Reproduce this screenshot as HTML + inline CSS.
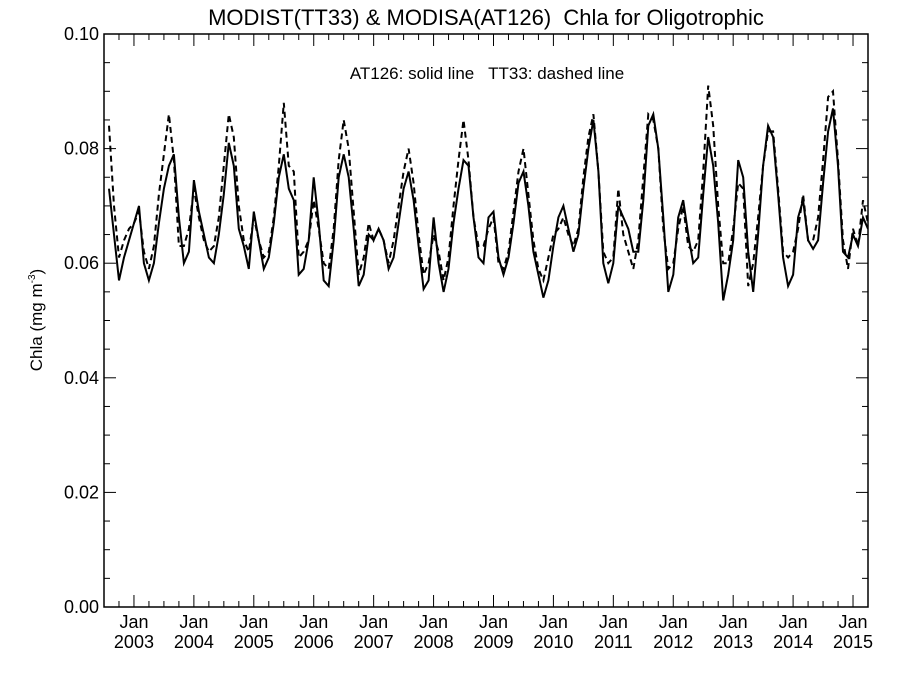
<!DOCTYPE html>
<html><head><meta charset="utf-8">
<style>
body{margin:0;background:#fff;}
svg text{font-family:"Liberation Sans",sans-serif;fill:#000;white-space:pre;}
</style></head>
<body>
<svg id="chart" width="900" height="675" xmlns="http://www.w3.org/2000/svg">
<rect width="900" height="675" fill="#fff"/>
<text x="486" y="25" font-size="22" text-anchor="middle" xml:space="preserve">MODIST(TT33) &amp; MODISA(AT126)  Chla for Oligotrophic</text>
<text x="487" y="79" font-size="17" text-anchor="middle" xml:space="preserve">AT126: solid line   TT33: dashed line</text>
<text transform="translate(42,320) rotate(-90)" font-size="17" text-anchor="middle">Chla (mg m<tspan font-size="10" dy="-7">-3</tspan><tspan dy="7">)</tspan></text>
<g id="axes"></g>
<g id="series"></g>
<rect x="104" y="34" width="764" height="573" fill="none" stroke="#000" stroke-width="1.5"/>
</svg>
<script>
const startYear = 2002, startMonth = 8; // first sample: Aug 2002
const solid = [
0.073,0.065,0.057,0.061,0.064,0.067,
0.070,0.060,0.057,0.060,0.067,0.073,0.077,0.079,0.068,0.060,0.062,0.0745,
0.069,0.065,0.061,0.060,0.065,0.072,0.081,0.077,0.066,0.063,0.059,0.069,
0.064,0.059,0.061,0.067,0.075,0.079,0.073,0.071,0.058,0.059,0.064,0.075,
0.067,0.057,0.056,0.064,0.075,0.079,0.075,0.066,0.056,0.058,0.065,0.064,
0.066,0.064,0.059,0.061,0.067,0.073,0.076,0.071,0.063,0.0555,0.057,0.068,
0.060,0.055,0.059,0.067,0.073,0.078,0.077,0.068,0.061,0.060,0.068,0.069,
0.061,0.058,0.061,0.067,0.074,0.076,0.070,0.062,0.058,0.054,0.057,0.063,
0.068,0.070,0.066,0.062,0.065,0.073,0.080,0.085,0.076,0.060,0.0565,0.060,
0.070,0.068,0.066,0.062,0.062,0.071,0.084,0.086,0.080,0.068,0.055,0.058,
0.068,0.071,0.065,0.060,0.061,0.072,0.082,0.077,0.067,0.0535,0.058,0.064,
0.078,0.075,0.062,0.055,0.065,0.077,0.084,0.082,0.072,0.061,0.056,0.058,
0.068,0.071,0.064,0.0625,0.064,0.074,0.083,0.087,0.077,0.062,0.061,0.065,
0.063,0.068,0.066,0.066];
const dashed = [
0.084,0.070,0.061,0.064,0.066,0.067,
0.069,0.062,0.059,0.063,0.072,0.079,0.086,0.078,0.063,0.063,0.066,0.073,
0.068,0.064,0.062,0.063,0.068,0.077,0.086,0.082,0.070,0.064,0.062,0.068,
0.064,0.061,0.062,0.068,0.077,0.088,0.077,0.076,0.061,0.062,0.064,0.071,
0.066,0.060,0.059,0.066,0.078,0.085,0.080,0.069,0.058,0.061,0.067,0.064,
0.066,0.064,0.060,0.064,0.070,0.076,0.080,0.074,0.065,0.058,0.060,0.065,
0.062,0.057,0.061,0.070,0.078,0.085,0.078,0.068,0.063,0.063,0.066,0.068,
0.060,0.059,0.062,0.069,0.076,0.080,0.072,0.064,0.059,0.057,0.061,0.065,
0.066,0.068,0.065,0.063,0.066,0.075,0.082,0.086,0.076,0.062,0.060,0.061,
0.073,0.065,0.062,0.059,0.064,0.075,0.086,0.085,0.080,0.066,0.059,0.060,
0.066,0.070,0.063,0.062,0.064,0.076,0.091,0.084,0.070,0.060,0.060,0.066,
0.074,0.073,0.056,0.060,0.068,0.077,0.083,0.083,0.073,0.062,0.061,0.062,
0.066,0.072,0.064,0.064,0.068,0.078,0.089,0.090,0.078,0.064,0.059,0.066,
0.063,0.071,0.067,0.069];
const yTicks = [0.00,0.02,0.04,0.06,0.08,0.10];
const yTickLabels = ["0.00","0.02","0.04","0.06","0.08","0.10"];
const xYears = [2003,2004,2005,2006,2007,2008,2009,2010,2011,2012,2013,2014,2015];

const L=104,R=868,T=34,B=607;
const tMin=2002.5, tMax=2015.25, yMin=0, yMax=0.1;
const X=t=>L+(t-tMin)/(tMax-tMin)*(R-L);
const Y=v=>B-(v-yMin)/(yMax-yMin)*(B-T);
const NS="http://www.w3.org/2000/svg";
const axes=document.getElementById('axes'), series=document.getElementById('series');
function mk(tag,attrs,parent){const e=document.createElementNS(NS,tag);for(const k in attrs)e.setAttribute(k,attrs[k]);parent.appendChild(e);return e;}

for(let v=0;v<=0.1001;v+=0.005){
  const major=Math.abs(v/0.02-Math.round(v/0.02))<1e-6;
  const len=major?12:6, y=Y(v);
  const t1=mk('line',{x1:L,x2:L+len,y1:y,y2:y,stroke:'#000','stroke-width':1},axes);
  
  
  const t2=mk('line',{x1:R,x2:R-len,y1:y,y2:y,stroke:'#000','stroke-width':1},axes);
  
  
}
yTicks.forEach((v,i)=>{
  const tx=mk('text',{x:L-5,y:Y(v)+6,'font-size':18,'text-anchor':'end'},axes);
  tx.textContent=yTickLabels[i];
  
  
});
for(let t=2002.75;t<tMax;t+=0.25){
  const major=Math.abs(t-Math.round(t))<1e-6;
  const len=major?12:6, x=X(t);
  const a=mk('line',{x1:x,x2:x,y1:B,y2:B-len,stroke:'#000','stroke-width':1},axes);
  
  
  const b=mk('line',{x1:x,x2:x,y1:T,y2:T+len,stroke:'#000','stroke-width':1},axes);
  
  
}
xYears.forEach(yr=>{
  const x=X(yr);
  const a=mk('text',{x:x,y:628,'font-size':18,'text-anchor':'middle'},axes);
  a.textContent='Jan';
  
  
  const b=mk('text',{x:x,y:648,'font-size':18,'text-anchor':'middle'},axes);
  b.textContent=String(yr);
  
  
});
function pts(arr){return arr.map((v,i)=>{const t=startYear+(startMonth-1+i)/12;return X(Math.min(t,tMax)).toFixed(1)+','+Y(v).toFixed(1);}).join(' ');}
mk('clipPath',{id:'clip'},document.getElementById('chart'));
mk('rect',{x:L,y:T,width:R-L,height:B-T},document.getElementById('clip'));
series.setAttribute('clip-path','url(#clip)');
const pd=mk('polyline',{points:pts(dashed),fill:'none',stroke:'#000','stroke-width':2,'stroke-dasharray':'6,4'},series);


const ps=mk('polyline',{points:pts(solid),fill:'none',stroke:'#000','stroke-width':2},series);


</script>
</body></html>
